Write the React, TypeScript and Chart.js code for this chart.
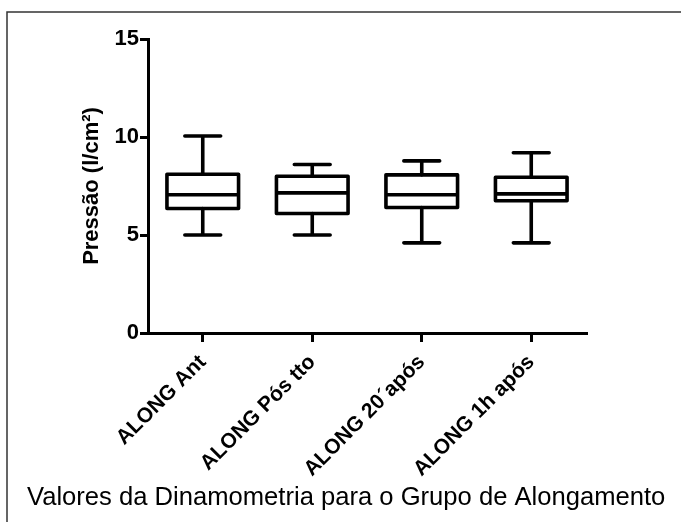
import React, { useEffect, useRef } from "react";
import { Chart, registerables } from "chart.js";

Chart.register(...registerables);

const categories = ["ALONG Ant", "ALONG Pós tto", "ALONG 20´após", "ALONG 1h após"];
const minValues = [5.0, 5.0, 4.6, 4.6];
const q1Values = [6.35, 6.1, 6.4, 6.75];
const medianValues = [7.05, 7.15, 7.05, 7.1];
const q3Values = [8.1, 8.0, 8.07, 7.95];
const maxValues = [10.05, 8.6, 8.78, 9.2];
const yTicks = [0, 5, 10, 15];

const yTitle = "Pressão (l/cm²)";
const chartTitle = "Valores da Dinamometria para o Grupo de Alongamento";

const FONT = "Arial, Liberation Sans, sans-serif";

const boxPlugin = {
  id: "boxWhiskers",
  afterDatasetsDraw(chart: any) {
    const { ctx } = chart;
    const y = chart.scales.y;
    const meta = chart.getDatasetMeta(0);
    ctx.save();
    ctx.strokeStyle = "#000";
    ctx.lineWidth = 3.6;
    ctx.lineJoin = "round";
    ctx.lineCap = "round";
    categories.forEach((_, i) => {
      const el = meta.data[i];
      if (!el) return;
      const cx = el.x;
      const half = el.width / 2;
      const capHalf = el.width * 0.25;
      const pMin = y.getPixelForValue(minValues[i]);
      const pQ1 = y.getPixelForValue(q1Values[i]);
      const pMed = y.getPixelForValue(medianValues[i]);
      const pQ3 = y.getPixelForValue(q3Values[i]);
      const pMax = y.getPixelForValue(maxValues[i]);
      ctx.beginPath();
      ctx.moveTo(cx, pMax);
      ctx.lineTo(cx, pQ3);
      ctx.moveTo(cx, pQ1);
      ctx.lineTo(cx, pMin);
      ctx.moveTo(cx - capHalf, pMax);
      ctx.lineTo(cx + capHalf, pMax);
      ctx.moveTo(cx - capHalf, pMin);
      ctx.lineTo(cx + capHalf, pMin);
      ctx.stroke();
      ctx.beginPath();
      ctx.rect(cx - half, pQ3, half * 2, pQ1 - pQ3);
      ctx.stroke();
      ctx.beginPath();
      ctx.lineCap = "butt";
      ctx.moveTo(cx - half, pMed);
      ctx.lineTo(cx + half, pMed);
      ctx.stroke();
      ctx.lineCap = "round";
    });
    ctx.restore();
  },
};

const framePlugin = {
  id: "frame",
  afterDraw(chart: any) {
    const { ctx, width, height } = chart;
    ctx.save();
    ctx.strokeStyle = "#333";
    ctx.lineWidth = 1.5;
    ctx.beginPath();
    ctx.moveTo(7, height);
    ctx.lineTo(7, 12);
    ctx.lineTo(width, 12);
    ctx.stroke();
    ctx.restore();
  },
};

export default function App() {
  const canvasRef = useRef<HTMLCanvasElement | null>(null);

  useEffect(() => {
    if (!canvasRef.current) return;
    const chart = new Chart(canvasRef.current, {
      type: "bar",
      data: {
        labels: categories,
        datasets: [
          {
            data: categories.map((_, i) => [q1Values[i], q3Values[i]]) as any,
            backgroundColor: "#fff",
            borderWidth: 0,
            barPercentage: 0.654,
            categoryPercentage: 1,
          },
        ],
      },
      options: {
        responsive: false,
        animation: false,
        events: [],
        layout: { padding: { left: 27, top: 39, right: 0, bottom: 0 } },
        plugins: {
          legend: { display: false },
          tooltip: { enabled: false },
          title: {
            display: true,
            text: chartTitle,
            position: "bottom",
            align: "start",
            color: "#000",
            font: { family: FONT, size: 25.6, weight: "normal" },
            padding: { top: 0, bottom: 9 },
          },
        },
        scales: {
          x: {
            offset: true,
            afterFit: (scale: any) => {
              scale.height = 522 - 333 - 39.72;
            },
            grid: {
              display: true,
              offset: false,
              drawOnChartArea: false,
              drawTicks: true,
              tickLength: 9,
              lineWidth: 3,
              color: "#000",
            },
            border: { display: true, width: 3, color: "#000" },
            ticks: {
              autoSkip: false,
              minRotation: 45,
              maxRotation: 45,
              padding: 8,
              color: "#000",
              font: { family: FONT, size: 21, weight: "bold" },
            },
          },
          y: {
            min: 0,
            max: 15,
            afterFit: (scale: any) => {
              scale.width = 121;
            },
            afterBuildTicks: (scale: any) => {
              scale.ticks = yTicks.map((v) => ({ value: v }));
            },
            grid: {
              display: true,
              drawOnChartArea: false,
              drawTicks: true,
              tickLength: 8,
              lineWidth: 3,
              color: "#000",
            },
            border: { display: true, width: 3, color: "#000" },
            ticks: {
              padding: 1,
              color: "#000",
              font: { family: FONT, size: 22, weight: "bold" },
            },
            title: {
              display: true,
              text: yTitle,
              color: "#000",
              padding: { top: 52, bottom: 0 },
              font: { family: FONT, size: 22, weight: "bold" },
            },
          },
          rightSpace: {
            type: "linear",
            position: "right",
            display: true,
            afterFit: (scale: any) => {
              scale.width = 95;
            },
            grid: { display: false, drawTicks: false },
            border: { display: false },
            ticks: { display: false },
          },
        },
      },
      plugins: [boxPlugin, framePlugin],
    });
    return () => chart.destroy();
  }, []);

  return (
    <div style={{ position: "fixed", left: 0, top: 0, width: 681, height: 522, background: "#fff" }}>
      <canvas ref={canvasRef} width={681} height={522} style={{ display: "block" }} />
    </div>
  );
}
